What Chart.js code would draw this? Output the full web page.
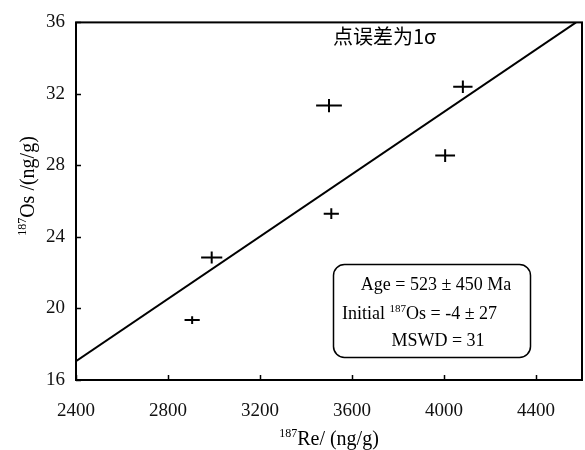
<!DOCTYPE html>
<html>
<head>
<meta charset="utf-8">
<script src="https://cdn.jsdelivr.net/npm/chart.js@4/dist/chart.umd.min.js"></script>
<style>
  html, body { margin: 0; padding: 0; background: #fff; }
  #wrap { width: 585px; height: 450px; }
</style>
</head>
<body>
<div id="wrap"><canvas id="iso"></canvas></div>
<script>
// measured Re-Os points, 1 sigma errors
var reVals = [2905, 2990, 3510, 3500, 4005, 4082];
var osVals = [19.35, 22.85, 25.3, 31.35, 28.55, 32.4];
var reErr = [33, 46, 33, 56, 43, 42];
var osErr = [0.22, 0.33, 0.3, 0.37, 0.36, 0.35];

// isochron endpoints
var lineX = [2400, 4574];
var lineY = [17.05, 36];

var xTicks = [2400, 2800, 3200, 3600, 4000, 4400];
var yTicks = [16, 20, 24, 28, 32, 36];

var serif = '"Liberation Serif", "DejaVu Serif", serif';

// draw text pieces, some raised as superscripts
function richText(ctx, parts, x, y, size, align) {
  var w = 0;
  parts.forEach(function(p) {
    ctx.font = (p.sup ? Math.round(size * 0.6) : size) + 'px ' + serif;
    p.w = ctx.measureText(p.t).width;
    w += p.w;
  });
  var cx = align == 'center' ? x - w / 2 : (align == 'right' ? x - w : x);
  ctx.textAlign = 'left';
  ctx.textBaseline = 'alphabetic';
  parts.forEach(function(p) {
    ctx.font = (p.sup ? Math.round(size * 0.6) : size) + 'px ' + serif;
    ctx.fillText(p.t, cx, p.sup ? y - size * 0.4 : y);
    cx += p.w;
  });
}

var decor = {
  id: 'decor',
  afterDatasetsDraw: function(chart) {
    var ctx = chart.ctx;
    var a = chart.chartArea;
    var xs = chart.scales.x, ys = chart.scales.y;
    ctx.save();
    ctx.strokeStyle = '#000';
    ctx.fillStyle = '#000';

    // error crosses
    ctx.lineWidth = 2;
    for (var i = 0; i < reVals.length; i++) {
      var px = xs.getPixelForValue(reVals[i]);
      var py = ys.getPixelForValue(osVals[i]);
      ctx.beginPath();
      ctx.moveTo(xs.getPixelForValue(reVals[i] - reErr[i]), py);
      ctx.lineTo(xs.getPixelForValue(reVals[i] + reErr[i]), py);
      ctx.moveTo(px, ys.getPixelForValue(osVals[i] - osErr[i]));
      ctx.lineTo(px, ys.getPixelForValue(osVals[i] + osErr[i]));
      ctx.stroke();
    }

    // frame and inward ticks
    ctx.lineWidth = 2;
    ctx.strokeRect(a.left, a.top, a.right - a.left, a.bottom - a.top);
    ctx.lineWidth = 1.5;
    ctx.beginPath();
    xTicks.forEach(function(v) {
      var p = Math.round(xs.getPixelForValue(v)) + 0.5;
      ctx.moveTo(p, a.bottom);
      ctx.lineTo(p, a.bottom - 5);
    });
    yTicks.forEach(function(v) {
      var p = Math.round(ys.getPixelForValue(v)) + 0.5;
      ctx.moveTo(a.left, p);
      ctx.lineTo(a.left + 5, p);
    });
    ctx.stroke();

    // note
    ctx.font = '20px "Noto Sans CJK SC", sans-serif';
    ctx.textAlign = 'left';
    ctx.textBaseline = 'middle';
    ctx.fillText('点误差为1σ', 333, 36);

    // result box
    ctx.lineWidth = 1.5;
    ctx.beginPath();
    ctx.roundRect(333.5, 264.5, 197, 93, 11);
    ctx.stroke();
    richText(ctx, [{t: 'Age = 523 ± 450 Ma'}], 436, 290, 18, 'center');
    richText(ctx, [{t: 'Initial '}, {t: '187', sup: true}, {t: 'Os = -4 ± 27'}], 342, 319, 18, 'left');
    richText(ctx, [{t: 'MSWD = 31'}], 438, 346, 18, 'center');

    // axis titles
    richText(ctx, [{t: '187', sup: true}, {t: 'Re/ (ng/g)'}], 329, 445, 20, 'center');
    ctx.translate(34, 186);
    ctx.rotate(-Math.PI / 2);
    richText(ctx, [{t: '187', sup: true}, {t: 'Os /(ng/g)'}], 0, 0, 20, 'center');
    ctx.restore();
  }
};

var ctx = document.getElementById('iso').getContext('2d');
new Chart(ctx, {
  data: {
    datasets: [{
      type: 'scatter',
      data: reVals.map(function(v, i) { return {x: v, y: osVals[i]}; }),
      pointRadius: 0,
      pointHoverRadius: 0
    }, {
      type: 'line',
      data: lineX.map(function(v, i) { return {x: v, y: lineY[i]}; }),
      borderColor: '#000',
      borderWidth: 2,
      pointRadius: 0,
      fill: false
    }]
  },
  options: {
    responsive: true,
    maintainAspectRatio: false,
    animation: false,
    events: [],
    layout: { padding: { top: 15, right: 3, left: 0, bottom: 0 } },
    plugins: { legend: { display: false }, tooltip: { enabled: false } },
    scales: {
      x: {
        type: 'linear',
        min: 2400,
        max: 4600,
        afterBuildTicks: function(s) { s.ticks = xTicks.map(function(v) { return {value: v}; }); },
        afterFit: function(s) { s.height = 70; },
        grid: { display: false, drawTicks: false },
        border: { display: false },
        ticks: { color: '#111', padding: 20, font: { family: serif, size: 19 },
          callback: function(v) { return String(v); } }
      },
      y: {
        type: 'linear',
        min: 16,
        max: 36,
        afterBuildTicks: function(s) { s.ticks = yTicks.map(function(v) { return {value: v}; }); },
        afterFit: function(s) { s.width = 76; },
        grid: { display: false, drawTicks: false },
        border: { display: false },
        ticks: { color: '#111', padding: 11, font: { family: serif, size: 19 },
          callback: function(v) { return String(v); } }
      }
    }
  },
  plugins: [decor]
});
</script>
</body>
</html>
